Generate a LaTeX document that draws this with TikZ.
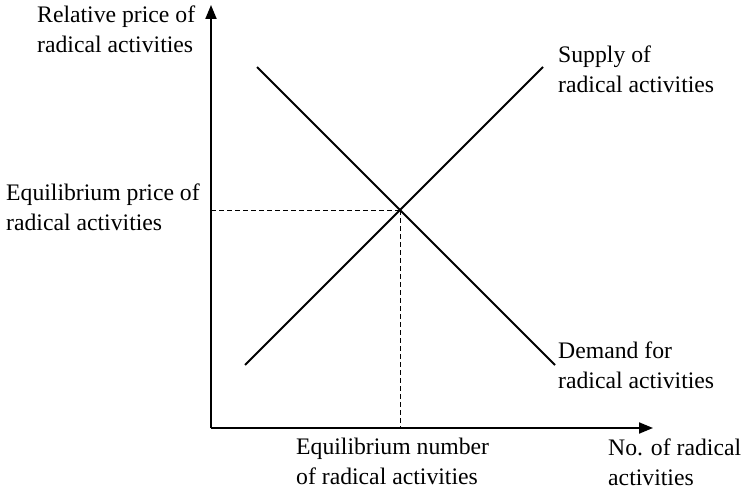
\documentclass[tikz,border=0pt]{standalone}
\usepackage{fontspec}
\setmainfont{Liberation Serif}
\usepackage{tikz}
\usetikzlibrary{arrows.meta,positioning}

\begin{document}
\begin{tikzpicture}[x=1pt,y=1pt,node distance=4pt]

\tikzstyle{axis}=[line width=2pt,-{Triangle[length=14pt,width=11pt]}]
\tikzstyle{curve}=[line width=1.8pt]
\tikzstyle{guide}=[line width=0.9pt,dash pattern=on 4.5pt off 3.5pt]
\tikzstyle{lbl}=[inner sep=0pt,align=left,font=\fontsize{23.7}{30}\selectfont]

\useasboundingbox (0,0) rectangle (742,491);

%axes
\coordinate (o) at (211,63);
\coordinate (ytop) at (211,486);
\coordinate (xend) at (653,63);
\draw [axis] (o) -- (ytop);
\draw [axis] (o) -- (xend);

%supply and demand
\coordinate (s1) at (245,126);
\coordinate (s2) at (543,424);
\coordinate (d1) at (257,424);
\coordinate (d2) at (555,126);
\draw [curve] (s1) -- (s2);
\draw [curve] (d1) -- (d2);

%equilibrium
\coordinate (eq) at (400,281);
\coordinate (eqy) at (211,281);
\coordinate (eqx) at (400,63);
\draw [guide] (eqy) -- (eq);
\draw [guide] (eq) -- (eqx);

%labels
\node [lbl,anchor=north west] (price) at (37,485) {Relative price of\\radical activities};
\node [lbl,anchor=north west] (eqprice) at (6,307) {Equilibrium price of\\radical activities};
\node [lbl,anchor=north west] (supply) at (558,445) {Supply of\\radical activities};
\node [lbl,anchor=north west] (demand) at (558,149) {Demand for\\radical activities};
\node [lbl,anchor=north west] (eqnum) at (296,53) {Equilibrium number\\of radical activities};
\node [lbl,anchor=north west] (num) at (608,52) {No. of radical\\activities};

\end{tikzpicture}
\end{document}
